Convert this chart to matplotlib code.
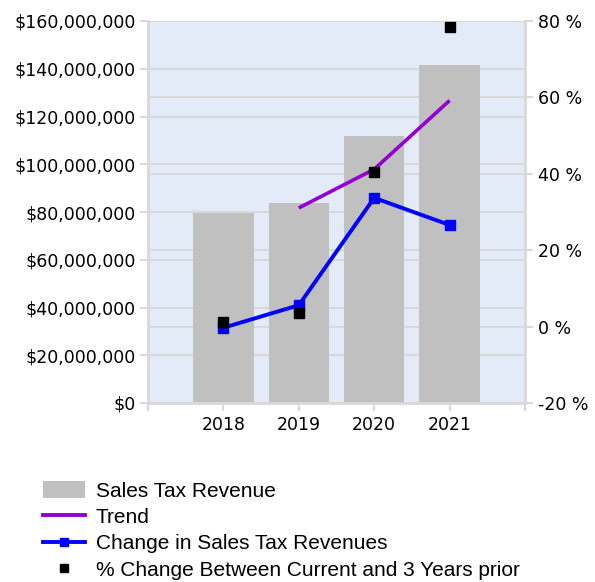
import matplotlib.pyplot as plt
from matplotlib.ticker import FuncFormatter, FixedLocator
from matplotlib.patches import Patch
from matplotlib.lines import Line2D

years = ["2018", "2019", "2020", "2021"]
revenue = [79.6e6, 83.8e6, 112.0e6, 141.4e6]
trend_years = ["2019", "2020", "2021"]
trend = [81.7e6, 97.9e6, 126.7e6]
change_pct = [-0.3, 5.6, 33.7, 26.6]
change_3yr = [1.3, 3.6, 40.4, 78.3]

grid_c = "#d9d9d9"
bg = "#e4ebf8"

fig = plt.figure(figsize=(5.95, 5.82), dpi=100)
ax = fig.add_axes([148 / 595, 1 - 403 / 582, 377 / 595, 382 / 582])
ax2 = ax.twinx()

x = list(range(1, len(years) + 1))
xt = [x[years.index(y)] for y in trend_years]

ax.set_facecolor(bg)
ax.bar(x, revenue, width=0.8, color="#c0c0c0", zorder=2)
ax.plot(xt, trend, color="#9400d3", lw=2.6, zorder=3, solid_capstyle="butt")
ax.set_xlim(0, len(years) + 1)
ax.set_ylim(0, 160e6)
ax.yaxis.set_major_locator(FixedLocator([i * 20e6 for i in range(9)]))
ax.yaxis.set_major_formatter(FuncFormatter(lambda v, p: f"${v:,.0f}"))
ax.set_xticks(x)
ax.set_xticklabels(years)
ax.set_xticks([0, len(years) + 1], minor=True)
ax.tick_params(axis="x", which="minor", length=6, width=1.5, color=grid_c)
ax.grid(axis="y", color=grid_c, lw=1.5, zorder=1)
ax.set_axisbelow(True)

ax2.set_ylim(-20, 80)
ax2.yaxis.set_major_locator(FixedLocator([-20, 0, 20, 40, 60, 80]))
ax2.yaxis.set_major_formatter(FuncFormatter(lambda v, p: f"{v:.0f} %"))
ax2.plot(x, change_pct, color="#0000ff", lw=2.8, marker="s", ms=7.5, zorder=4)
ax2.plot(x, change_3yr, ls="none", color="black", marker="s", ms=7.5, zorder=5)

for a in (ax, ax2):
    for s in a.spines.values():
        s.set_color(grid_c)
        s.set_linewidth(1.8)
    a.spines["top"].set_visible(False)
    a.tick_params(axis="both", which="major", length=6, width=1.5, color=grid_c,
                  labelsize=12.5, labelcolor="black", pad=3)

# right-axis gridlines drawn on ax so they stay behind the bars
ax.set_zorder(1)
ax2.set_zorder(2)
ax2.patch.set_visible(False)
for v in [-20, 0, 20, 40, 60, 80]:
    ax.axhline((v + 20) / 100 * 160e6, color=grid_c, lw=1.5, zorder=1)

handles = [
    Patch(facecolor="#c0c0c0", edgecolor="none"),
    Line2D([], [], color="#9400d3", lw=2.8),
    Line2D([], [], color="#0000ff", lw=2.8, marker="s", ms=6),
    Line2D([], [], ls="none", color="black", marker="s", ms=6),
]
labels = ["Sales Tax Revenue", "Trend", "Change in Sales Tax Revenues",
          "% Change Between Current and 3 Years prior"]
fig.legend(handles, labels, loc="upper left", bbox_to_anchor=(43 / 595, 1 - 481 / 582),
           frameon=False, borderpad=0, borderaxespad=0, handlelength=2.0,
           handleheight=0.85, handletextpad=0.53, labelspacing=0.33,
           prop={"family": "Liberation Sans", "size": 15})

fig.savefig("out.png", dpi=100)
